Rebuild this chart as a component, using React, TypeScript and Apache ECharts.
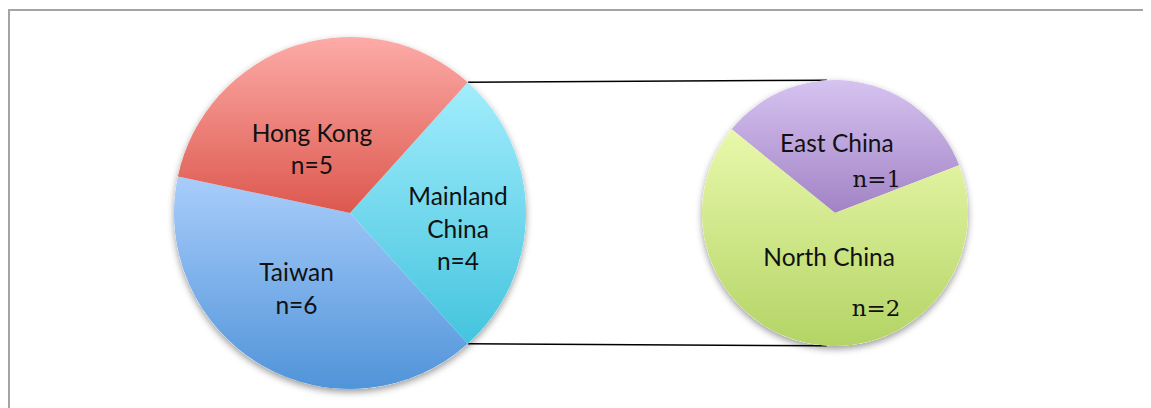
import React, { useEffect, useRef } from "react";
import * as echarts from "echarts";

// Main pie: respondents by region (drawn clockwise from the exploded slice)
const regions = ["Mainland China", "Taiwan", "Hong Kong"];
const regionCounts = [4, 6, 5];

// Secondary pie: breakdown of the Mainland China slice
const subRegions = ["East China", "North China"];
const subRegionCounts = [1, 2];

const detailRegion = "Mainland China";

// Slice fills (top -> bottom gradient stops)
const regionFills: [string, string][] = [
  ["#a2edfc", "#44c4de"],
  ["#a9cdfb", "#5094d9"],
  ["#fdaba7", "#dc584e"],
];
const subRegionFills: [string, string][] = [
  ["#d6c3f0", "#a283c6"],
  ["#e9f8ab", "#b3d465"],
];

// Label nudges relative to the default inside position, in px
const regionLabelShift: [number, number][] = [
  [17, 15],
  [-8, -4],
  [-10, 22],
];
const subLabelShift: [number, number][] = [
  [-9, 20],
  [5, 11],
];
// horizontal shift of the "n=" line and its line height in the secondary pie
const subCountShift = [40, 47];
const subCountLineHeight = [44, 72];

const W = 1143;
const H = 400;
const main = { cx: 342, cy: 205, r: 176 };
const detail = { cx: 827, cy: 205, r: 133 };

const sansFont = "Lato, 'Open Sans', sans-serif";
const serifFont = "'DejaVu Serif', serif";
const labelSize = 24.5;

function grad(c: [string, string]) {
  return {
    type: "linear",
    x: 0,
    y: 0,
    x2: 0,
    y2: 1,
    colorStops: [
      { offset: 0, color: c[0] },
      { offset: 1, color: c[1] },
    ],
  };
}

// long region names are broken onto two lines
const wrapName = (name: string) => (name.length > 10 ? name.replace(" ", "\n") : name);

export default function App() {
  const ref = useRef<HTMLDivElement>(null);

  useEffect(() => {
    if (!ref.current) return;
    const chart = echarts.init(ref.current, null, { renderer: "svg" });

    const total = regionCounts.reduce((a, b) => a + b, 0);
    const di = regions.indexOf(detailRegion);
    const detailSpan = (360 * regionCounts[di]) / total;
    // the detail slice is the first one, centred on the horizontal axis
    const mainStart = detailSpan / 2;

    const subTotal = subRegionCounts.reduce((a, b) => a + b, 0);
    const subStart = 81 + (360 * subRegionCounts[0]) / subTotal / 2;

    const rad = (d: number) => (d * Math.PI) / 180;
    const edge = (c: typeof main, deg: number) => [
      c.cx + c.r * Math.cos(rad(deg)),
      c.cy - c.r * Math.sin(rad(deg)),
    ];
    const upperFrom = edge(main, mainStart);
    const lowerFrom = edge(main, -mainStart);
    const upperTo = edge(detail, 93.5);
    const lowerTo = edge(detail, 266.5);

    const mainData = regions.map((name, i) => ({
      name,
      value: regionCounts[i],
      itemStyle: { color: grad(regionFills[i]) },
    }));

    const subData = subRegions.map((name, i) => ({
      name,
      value: subRegionCounts[i],
      itemStyle: { color: grad(subRegionFills[i]) },
      label: {
        rich: {
          a: { fontFamily: sansFont, fontSize: labelSize, lineHeight: 30, color: "#111" },
          b: {
            fontFamily: serifFont,
            fontSize: 23,
            lineHeight: subCountLineHeight[i],
            color: "#111",
            padding: [0, 0, 0, subCountShift[i] * 2],
          },
        },
      },
    }));

    const shadowBase = (c: typeof main) => ({
      type: "pie",
      silent: true,
      z: 1,
      center: [c.cx, c.cy],
      radius: c.r,
      label: { show: false },
      labelLine: { show: false },
      itemStyle: {
        color: "#ffffff",
        shadowBlur: 7,
        shadowOffsetY: 3,
        shadowColor: "rgba(0,0,0,0.4)",
      },
      data: [{ value: 1, name: "" }],
    });

    chart.setOption({
      animation: false,
      tooltip: { show: false },
      graphic: [
        {
          type: "rect",
          shape: { x: 1, y: 2, width: W + 100, height: H + 100 },
          style: { fill: "none", stroke: "#a4a4a4", lineWidth: 2 },
          z: 0,
        },
        {
          type: "line",
          shape: { x1: upperFrom[0], y1: upperFrom[1], x2: upperTo[0], y2: upperTo[1] },
          style: { stroke: "#000", lineWidth: 1.5 },
          z: 0,
        },
        {
          type: "line",
          shape: { x1: lowerFrom[0], y1: lowerFrom[1], x2: lowerTo[0], y2: lowerTo[1] },
          style: { stroke: "#000", lineWidth: 1.5 },
          z: 0,
        },
      ],
      series: [
        shadowBase(main),
        shadowBase(detail),
        {
          type: "pie",
          z: 2,
          center: [main.cx, main.cy],
          radius: main.r,
          startAngle: mainStart,
          clockwise: true,
          label: {
            show: true,
            position: "inside",
            formatter: (p: any) => `{a|${wrapName(p.name)}}\n{a|n=${p.value}}`,
            rich: {
              a: { fontFamily: sansFont, fontSize: labelSize, lineHeight: 32.5, color: "#111" },
            },
          },
          labelLine: { show: false },
          labelLayout: (p: any) => ({
            dx: regionLabelShift[p.dataIndex][0],
            dy: regionLabelShift[p.dataIndex][1],
          }),
          itemStyle: { borderWidth: 0 },
          emphasis: { disabled: true },
          data: mainData,
        },
        {
          type: "pie",
          z: 2,
          center: [detail.cx, detail.cy],
          radius: detail.r,
          startAngle: subStart,
          clockwise: true,
          label: {
            show: true,
            position: "inside",
            formatter: (p: any) => `{a|${p.name}}\n{b|n=${p.value}}`,
          },
          labelLine: { show: false },
          labelLayout: (p: any) => ({
            dx: subLabelShift[p.dataIndex][0],
            dy: subLabelShift[p.dataIndex][1],
          }),
          itemStyle: { borderWidth: 0 },
          emphasis: { disabled: true },
          data: subData,
        },
      ],
    });

    return () => chart.dispose();
  }, []);

  return <div ref={ref} style={{ width: W, height: H }} />;
}
